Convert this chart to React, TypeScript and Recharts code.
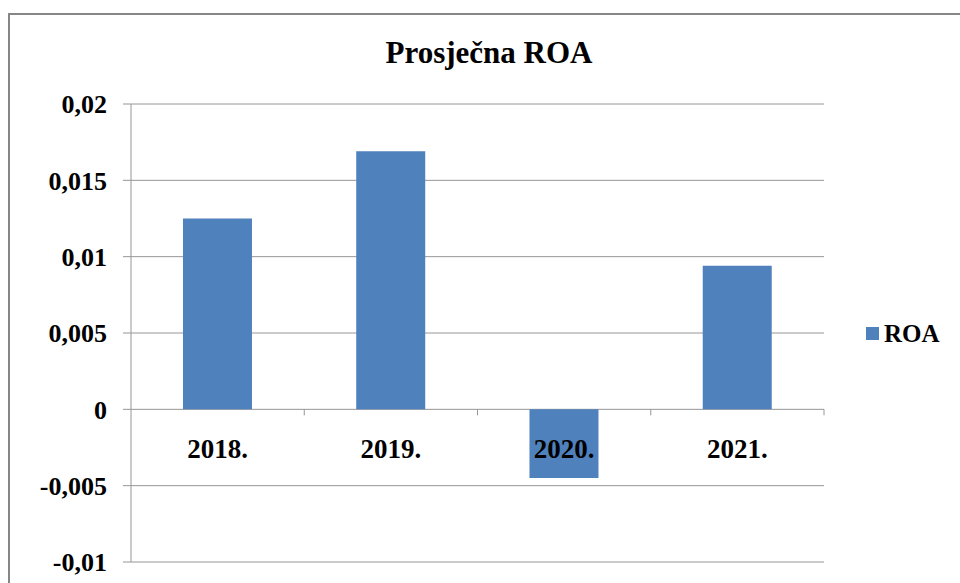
import React from 'react';
import { BarChart, Bar, XAxis, YAxis, CartesianGrid } from 'recharts';

// Years on the category axis
const years: string[] = ['2018.', '2019.', '2020.', '2021.'];
// Average ROA per year
const roaValues: number[] = [0.0125, 0.0169, -0.0045, 0.0094];
// Value axis ticks
const yTicks: number[] = [-0.01, -0.005, 0, 0.005, 0.01, 0.015, 0.02];

const data = years.map((year, i) => ({ year, ROA: roaValues[i] }));

const FONT = 'Liberation Serif, serif';
const BAR_COLOR = '#4F81BD';
const GRID_COLOR = '#969696';

// plot frame
const CHART_W = 960;
const CHART_H = 583;
const PLOT_LEFT = 131;
const PLOT_TOP = 104;
const PLOT_RIGHT = 824;
const PLOT_BOTTOM = 562;
const Y_MIN = yTicks[0];
const Y_MAX = yTicks[yTicks.length - 1];

const zeroY = PLOT_TOP + ((PLOT_BOTTOM - PLOT_TOP) * Y_MAX) / (Y_MAX - Y_MIN);
const band = (PLOT_RIGHT - PLOT_LEFT) / years.length;

const formatTick = (v: number) => String(v).replace('.', ',');

// Category labels sit under the zero line, like Excel does
const YearTick = (props: any) => {
  const { x, payload } = props;
  return (
    <g>
      <line x1={x + band / 2} x2={x + band / 2} y1={zeroY} y2={zeroY + 6} stroke={GRID_COLOR} />
      <text
        x={x}
        y={zeroY + 49}
        textAnchor="middle"
        fontFamily={FONT}
        fontWeight="bold"
        fontSize={27}
        fill="#000"
      >
        {payload.value}
      </text>
    </g>
  );
};

const App: React.FC = () => {
  return (
    <div
      style={{
        position: 'fixed',
        left: 0,
        top: 0,
        width: CHART_W,
        height: CHART_H,
        overflow: 'hidden',
        background: '#fff',
        fontFamily: FONT,
      }}
    >
      {/* chart frame (right and bottom edges fall outside the picture) */}
      <div
        style={{
          position: 'absolute',
          left: 8,
          top: 13,
          width: 1000,
          height: 700,
          borderLeft: '2px solid #868686',
          borderTop: '2px solid #868686',
        }}
      />

      {/* Title */}
      <div
        style={{
          position: 'absolute',
          left: 489,
          top: 37,
          transform: 'translateX(-50%)',
          fontFamily: FONT,
          fontSize: 31,
          fontWeight: 'bold',
          lineHeight: '31px',
          whiteSpace: 'nowrap',
          color: '#000',
        }}
      >
        Prosječna ROA
      </div>

      {/* Legend */}
      <div
        style={{
          position: 'absolute',
          left: 866,
          top: 321,
          display: 'flex',
          alignItems: 'center',
          fontFamily: FONT,
        }}
      >
        <span style={{ width: 13, height: 13, background: BAR_COLOR, marginRight: 5 }} />
        <span style={{ fontSize: 25, fontWeight: 'bold', color: '#000', lineHeight: '25px' }}>ROA</span>
      </div>

      <div style={{ position: 'absolute', left: 0, top: 0 }}>
        <BarChart
          width={CHART_W}
          height={CHART_H}
          data={data}
          barCategoryGap="30%"
          margin={{ top: PLOT_TOP, right: CHART_W - PLOT_RIGHT, bottom: CHART_H - PLOT_BOTTOM - 20, left: 0 }}
        >
          <CartesianGrid vertical={false} stroke={GRID_COLOR} />
          <XAxis
            dataKey="year"
            height={20}
            axisLine={false}
            tickLine={false}
            tickSize={0}
            tickMargin={0}
            interval={0}
            tick={<YearTick />}
          />
          <YAxis
            width={PLOT_LEFT}
            domain={[Y_MIN, Y_MAX]}
            ticks={yTicks}
            interval={0}
            tickFormatter={formatTick}
            axisLine={{ stroke: GRID_COLOR }}
            tickLine={{ stroke: GRID_COLOR }}
            tickSize={8}
            tickMargin={16}
            tick={{ fontSize: 26, fontWeight: 'bold', fill: '#000', fontFamily: FONT }}
          />
          <Bar dataKey="ROA" fill={BAR_COLOR} isAnimationActive={false} />
        </BarChart>
      </div>
    </div>
  );
};

export default App;
